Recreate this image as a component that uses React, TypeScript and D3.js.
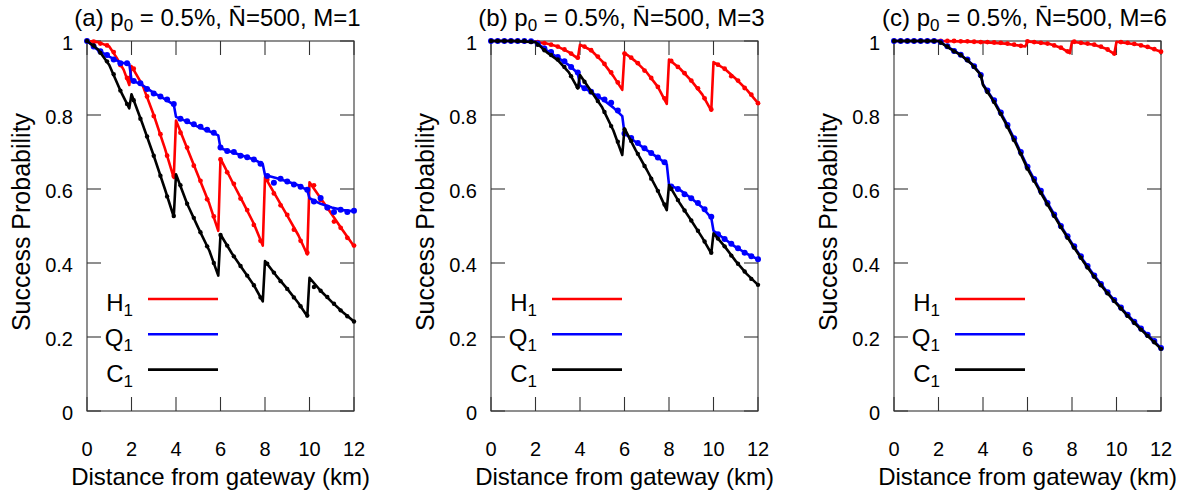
import React from 'react';
import * as d3 from 'd3';

type Pt = [number, number];

const X_TICKS = [0, 2, 4, 6, 8, 10, 12];
const Y_TICKS = [0, 0.2, 0.4, 0.6, 0.8, 1];
const Y_TICK_LABELS = ['0', '0.2', '0.4', '0.6', '0.8', '1'];
const PANEL_LETTERS = ['a', 'b', 'c'];
const PANEL_M = [1, 3, 6];
const SERIES_LETTERS = ['H', 'Q', 'C'];
const SERIES_COLORS = ['#ff0000', '#0000ff', '#000000'];

const DOT_X = [0, 0.3, 0.6, 0.9, 1.2, 1.5, 1.8, 2.1, 2.4, 2.7, 3, 3.3, 3.6, 3.9, 4.2, 4.5, 4.8, 5.1, 5.4, 5.7, 6, 6.3, 6.6, 6.9, 7.2, 7.5, 7.8, 8.1, 8.4, 8.7, 9, 9.3, 9.6, 9.9, 10.2, 10.5, 10.8, 11.1, 11.4, 11.7, 12];

// ---- Panel (a) M=1 ----
const H1_A_LINE: Pt[] = [[0,1],[0.5,0.997],[1,0.985],[1.33,0.955],[1.65,0.922],[1.9,0.881],[2,0.932],[2.5,0.88],[3,0.8],[3.5,0.71],[3.9,0.63],[4,0.785],[4.5,0.71],[5,0.635],[5.5,0.56],[5.9,0.487],[6,0.682],[6.5,0.623],[7,0.565],[7.5,0.506],[7.9,0.447],[8,0.632],[8.5,0.58],[9,0.528],[9.5,0.475],[9.9,0.423],[10,0.618],[10.5,0.575],[11,0.532],[11.5,0.488],[12,0.445]];
const Q1_A_LINE: Pt[] = [[0,1],[0.5,0.975],[1,0.958],[1.5,0.942],[1.9,0.938],[2,0.895],[2.5,0.88],[3,0.86],[3.5,0.843],[3.9,0.828],[4,0.795],[4.5,0.782],[5,0.768],[5.5,0.756],[5.9,0.745],[6,0.71],[6.5,0.7],[7,0.69],[7.5,0.68],[7.9,0.667],[8,0.638],[8.5,0.63],[9,0.62],[9.5,0.61],[9.9,0.597],[10,0.575],[10.5,0.56],[11,0.55],[11.5,0.543],[12,0.54]];
const C1_A_LINE: Pt[] = [[0,1],[0.5,0.977],[1,0.935],[1.5,0.866],[1.9,0.818],[2,0.856],[2.5,0.775],[3,0.69],[3.5,0.6],[3.9,0.525],[4,0.64],[4.5,0.56],[5,0.495],[5.5,0.433],[5.9,0.366],[6,0.477],[6.5,0.427],[7,0.383],[7.5,0.34],[7.9,0.296],[8,0.405],[8.5,0.366],[9,0.33],[9.5,0.292],[9.9,0.256],[10,0.36],[10.5,0.325],[11,0.295],[11.5,0.267],[12,0.242]];
const H1_A_DOTS = [1.0,0.998,0.993,0.988,0.97,0.935,0.9,0.925,0.886,0.85,0.797,0.748,0.69,0.635,0.752,0.712,0.663,0.622,0.572,0.526,0.68,0.645,0.614,0.574,0.543,0.503,0.46,0.625,0.588,0.556,0.53,0.49,0.46,0.428,0.61,0.57,0.548,0.512,0.495,0.468,0.447];
const Q1_A_DOTS = [1.0,0.985,0.972,0.962,0.95,0.94,0.94,0.892,0.886,0.87,0.858,0.85,0.842,0.83,0.79,0.783,0.775,0.768,0.76,0.752,0.712,0.703,0.7,0.69,0.686,0.68,0.668,0.635,0.617,0.628,0.62,0.612,0.606,0.598,0.566,0.576,0.55,0.538,0.544,0.538,0.541];
const C1_A_DOTS = [1,0.988,0.968,0.945,0.91,0.866,0.83,0.84,0.79,0.742,0.69,0.636,0.58,0.527,0.61,0.56,0.522,0.483,0.445,0.4,0.476,0.447,0.418,0.392,0.366,0.34,0.307,0.398,0.374,0.351,0.33,0.307,0.283,0.258,0.335,0.325,0.308,0.29,0.272,0.256,0.242];

// ---- Panel (b) M=3 ----
const H1_B_LINE: Pt[] = [[0,1],[1,1],[2,0.998],[2.5,0.993],[3,0.985],[3.5,0.97],[3.9,0.953],[4,0.99],[4.5,0.975],[5,0.945],[5.5,0.905],[5.9,0.868],[6,0.968],[6.5,0.945],[7,0.915],[7.5,0.876],[7.9,0.83],[8,0.95],[8.5,0.925],[9,0.893],[9.5,0.855],[9.9,0.812],[10,0.943],[10.5,0.925],[11,0.898],[11.5,0.868],[12,0.832]];
const Q1_B_LINE: Pt[] = [[0,1],[1,1],[2,0.998],[2.5,0.975],[3,0.955],[3.5,0.935],[3.9,0.913],[4,0.88],[4.5,0.862],[5,0.843],[5.5,0.82],[5.9,0.797],[6,0.75],[6.5,0.727],[7,0.705],[7.5,0.685],[7.9,0.667],[8,0.612],[8.5,0.597],[9,0.575],[9.5,0.55],[9.9,0.522],[10,0.487],[10.5,0.465],[11,0.443],[11.5,0.425],[12,0.41]];
const C1_B_LINE: Pt[] = [[0,1],[1,1],[2,0.997],[2.5,0.97],[3,0.948],[3.5,0.915],[3.9,0.872],[4,0.908],[4.5,0.864],[5,0.82],[5.5,0.758],[5.9,0.692],[6,0.764],[6.5,0.705],[7,0.652],[7.5,0.595],[7.9,0.543],[8,0.611],[8.5,0.56],[9,0.515],[9.5,0.468],[9.9,0.426],[10,0.48],[10.5,0.445],[11,0.405],[11.5,0.37],[12,0.341]];
const H1_B_DOTS = [1,1,1,1,1,0.999,0.998,0.997,0.994,0.99,0.985,0.977,0.966,0.955,0.985,0.975,0.958,0.938,0.915,0.888,0.966,0.955,0.94,0.92,0.9,0.876,0.845,0.946,0.93,0.913,0.893,0.872,0.845,0.815,0.936,0.925,0.905,0.893,0.873,0.855,0.832];
const Q1_B_DOTS = [1,1,1,1,1,1,0.999,0.993,0.98,0.97,0.957,0.945,0.93,0.915,0.872,0.863,0.851,0.842,0.833,0.812,0.75,0.738,0.724,0.71,0.697,0.685,0.672,0.607,0.6,0.586,0.575,0.562,0.545,0.525,0.478,0.465,0.452,0.44,0.428,0.418,0.41];
const C1_B_DOTS = [1,1,1,1,1,1,0.998,0.99,0.975,0.962,0.95,0.93,0.905,0.875,0.89,0.862,0.838,0.808,0.77,0.728,0.76,0.73,0.695,0.662,0.628,0.595,0.558,0.6,0.57,0.542,0.515,0.487,0.458,0.428,0.466,0.445,0.42,0.398,0.377,0.357,0.341];

// ---- Panel (c) M=6 ----
const H1_C_LINE: Pt[] = [[0,1],[2,1],[3,0.999],[4,0.997],[5,0.993],[5.9,0.985],[6,0.999],[7,0.992],[7.5,0.982],[7.9,0.967],[8,0.998],[9,0.99],[9.5,0.98],[9.9,0.965],[10,0.998],[11,0.99],[11.5,0.982],[12,0.971]];
const Q1_C_LINE: Pt[] = [[0,1],[2,1],[2.5,0.981],[3,0.963],[3.5,0.938],[3.9,0.91],[4,0.883],[4.5,0.838],[5,0.784],[5.5,0.724],[6,0.66],[6.5,0.604],[7,0.552],[7.5,0.5],[8,0.453],[8.5,0.408],[9,0.366],[9.5,0.328],[10,0.292],[10.5,0.26],[11,0.229],[11.5,0.2],[12,0.17]];
const C1_C_LINE: Pt[] = [[0,1],[2,1],[2.5,0.98],[3,0.962],[3.5,0.937],[3.9,0.908],[4,0.881],[4.5,0.835],[5,0.78],[5.5,0.72],[6,0.655],[6.5,0.6],[7,0.548],[7.5,0.497],[8,0.45],[8.5,0.405],[9,0.363],[9.5,0.325],[10,0.29],[10.5,0.257],[11,0.226],[11.5,0.197],[12,0.168]];
const H1_C_DOTS = [1,1,1,1,1,1,1,1,1,1,0.999,0.999,0.998,0.997,0.997,0.996,0.995,0.993,0.99,0.987,0.999,0.997,0.995,0.993,0.988,0.982,0.972,0.998,0.995,0.993,0.99,0.985,0.977,0.966,0.997,0.995,0.992,0.988,0.984,0.978,0.971];
const Q1_C_DOTS = [1,1,1,1,1,1,1,0.997,0.986,0.973,0.963,0.95,0.932,0.908,0.866,0.84,0.807,0.773,0.737,0.7,0.66,0.627,0.595,0.562,0.531,0.5,0.472,0.445,0.418,0.392,0.366,0.343,0.321,0.3,0.28,0.26,0.241,0.223,0.206,0.189,0.17];
const C1_C_DOTS = [1,1,1,1,1,1,1,0.996,0.985,0.972,0.962,0.948,0.93,0.905,0.862,0.835,0.803,0.768,0.732,0.695,0.655,0.622,0.59,0.558,0.527,0.497,0.468,0.441,0.414,0.388,0.363,0.34,0.318,0.297,0.277,0.257,0.238,0.22,0.203,0.186,0.168];

const PANEL_LINES = [
  [H1_A_LINE, Q1_A_LINE, C1_A_LINE],
  [H1_B_LINE, Q1_B_LINE, C1_B_LINE],
  [H1_C_LINE, Q1_C_LINE, C1_C_LINE],
];
const PANEL_DOTS = [
  [H1_A_DOTS, Q1_A_DOTS, C1_A_DOTS],
  [H1_B_DOTS, Q1_B_DOTS, C1_B_DOTS],
  [H1_C_DOTS, Q1_C_DOTS, C1_C_DOTS],
];

// ---- layout ----
const W = 1186;
const H = 491;
const PANEL_LEFT = [87, 491, 894];
const PLOT_W = 267;
const TOP = 41;
const BOTTOM = 411;
const TICK = 14;
const FONT = '"Liberation Sans", Arial, Helvetica, sans-serif';
const DOT_R = [2.4, 3.0, 2.2];

function Panel({ idx }: { idx: number }) {
  const left = PANEL_LEFT[idx];
  const right = left + PLOT_W;
  const x = d3.scaleLinear().domain([0, 12]).range([left, right]);
  const y = d3.scaleLinear().domain([0, 1]).range([BOTTOM, TOP]);
  const line = d3
    .line<Pt>()
    .x((d) => x(d[0]))
    .y((d) => y(d[1]));
  const cx = (left + right) / 2;
  const frame = '#333';

  return (
    <g>
      <rect x={left} y={TOP} width={PLOT_W} height={BOTTOM - TOP} fill="none" stroke={frame} strokeWidth={1.1} />
      {X_TICKS.map((t) => (
        <g key={'xt' + t}>
          <line x1={x(t)} x2={x(t)} y1={BOTTOM} y2={BOTTOM - TICK} stroke={frame} strokeWidth={1.1} />
          <line x1={x(t)} x2={x(t)} y1={TOP} y2={TOP + TICK} stroke={frame} strokeWidth={1.1} />
          <text x={x(t)} y={456} textAnchor="middle" fontSize={20} fontFamily={FONT}>{String(t)}</text>
        </g>
      ))}
      {Y_TICKS.map((t, i) => (
        <g key={'yt' + t}>
          <line x1={left} x2={left + TICK} y1={y(t)} y2={y(t)} stroke={frame} strokeWidth={1.1} />
          <line x1={right} x2={right - TICK} y1={y(t)} y2={y(t)} stroke={frame} strokeWidth={1.1} />
          <text x={left - 14} y={y(t) + 9} textAnchor="end" fontSize={20} fontFamily={FONT}>{Y_TICK_LABELS[i]}</text>
        </g>
      ))}
      <text x={cx} y={485} textAnchor="middle" fontSize={24} fontFamily={FONT}>Distance from gateway (km)</text>
      <text transform={`translate(${left - 57},${(TOP + BOTTOM) / 2 - 4}) rotate(-90)`} textAnchor="middle" fontSize={25} fontFamily={FONT}>Success Probability</text>
      <text x={cx - 3} y={26} textAnchor="middle" fontSize={24} fontFamily={FONT}>
        {`(${PANEL_LETTERS[idx]}) p`}
        <tspan fontSize={17} dy={5}>0</tspan>
        <tspan dy={-5}>{` = 0.5%, N\u0304=500, M=${PANEL_M[idx]}`}</tspan>
      </text>
      {[0, 1, 2].map((s) => (
        <g key={'s' + s}>
          <path d={line(PANEL_LINES[idx][s]) || ''} fill="none" stroke={SERIES_COLORS[s]} strokeWidth={2.6} strokeLinejoin="round" />
          {PANEL_DOTS[idx][s].map((v, k) => (
            <circle key={k} cx={x(DOT_X[k])} cy={y(v)} r={DOT_R[s]} fill={SERIES_COLORS[s]} />
          ))}
        </g>
      ))}
      {[0, 1, 2].map((s) => {
        const ly = 299 + s * 35.3;
        return (
          <g key={'lg' + s}>
            <line x1={left + 61} x2={left + 131} y1={ly} y2={ly} stroke={SERIES_COLORS[s]} strokeWidth={2.6} />
            <text x={left + 46} y={ly + 12} textAnchor="end" fontSize={24} fontFamily={FONT}>
              {SERIES_LETTERS[s]}
              <tspan fontSize={17} dy={5}>1</tspan>
            </text>
          </g>
        );
      })}
    </g>
  );
}

export default function App() {
  return (
    <svg width={W} height={H} viewBox={`0 0 ${W} ${H}`} style={{ position: 'absolute', left: 0, top: 0, background: '#fff' }}>
      <rect x={0} y={0} width={W} height={H} fill="#fff" />
      {[0, 1, 2].map((i) => (
        <Panel key={i} idx={i} />
      ))}
    </svg>
  );
}
